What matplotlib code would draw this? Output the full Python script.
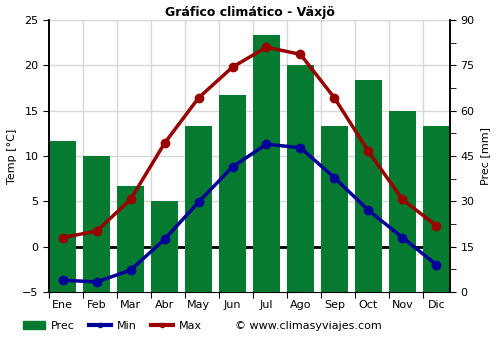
import matplotlib.pyplot as plt
from matplotlib.lines import Line2D
from matplotlib.patches import Patch
from matplotlib.ticker import MultipleLocator

months = ["Ene", "Feb", "Mar", "Abr", "May", "Jun", "Jul", "Ago", "Sep", "Oct", "Nov", "Dic"]
prec = [50, 45, 35, 30, 55, 65, 85, 75, 55, 70, 60, 55]
tmin = [-3.7, -3.9, -2.6, 0.8, 4.9, 8.8, 11.3, 10.9, 7.6, 4.0, 1.0, -2.0]
tmax = [1.0, 1.7, 5.2, 11.4, 16.4, 19.8, 22.0, 21.2, 16.4, 10.5, 5.2, 2.3]

green = "#057a30"
blue = "#000099"
red = "#990000"

fig = plt.figure(figsize=(5, 3.5), dpi=100)
ax = fig.add_axes([0.098, 0.166, 0.802, 0.777])
ax2 = ax.twinx()

x = list(range(len(months)))
w = 0.8

# bars on the right axis, drawn behind the temperature lines
ax2.bar(x, prec, width=w, color=green, zorder=1)
ax2.set_ylim(0, 90)
ax2.yaxis.set_major_locator(MultipleLocator(15))
ax2.yaxis.set_minor_locator(MultipleLocator(7.5))
ax2.set_ylabel("Prec [mm]", fontsize=8)
ax2.tick_params(axis="y", labelsize=8, length=4)
ax2.tick_params(axis="y", which="minor", length=4)

ax.set_zorder(ax2.get_zorder() + 1)
ax.patch.set_visible(False)

# bars fill the plot edge to edge, grid lines at the left edge of each bar
ax.set_xlim(-w / 2, len(months) - 1 + w / 2)
ax.set_ylim(-5, 25)
ax.yaxis.set_major_locator(MultipleLocator(5))
edges = [i - w / 2 for i in x]
ax.set_xticks(edges, minor=False)
ax.set_xticklabels([])
ax.set_xticks(x, minor=True)
ax.set_xticklabels(months, minor=True, fontsize=8)
ax.tick_params(axis="x", which="minor", length=0, pad=6)
ax.tick_params(axis="x", which="major", length=4)
ax.tick_params(axis="y", labelsize=8, length=4)
ax.set_ylabel("Temp [°C]", fontsize=8)

# grid lines sit under the bars (temp ticks every 5 = 15 mm on the right axis)
for v in range(0, 91, 15):
    ax2.axhline(v, color="#d8d8d8", lw=1, zorder=0)
for e in edges[1:]:
    ax2.axvline(e, color="#d8d8d8", lw=1, zorder=0)
# 0 °C line, also behind the bars (0 °C sits at 15 mm)
ax2.axhline(15, color="black", lw=2, zorder=0.5)

ax.plot(x, tmin, color=blue, lw=2.5, marker="o", ms=6, zorder=3)
ax.plot(x, tmax, color=red, lw=2.5, marker="o", ms=6, zorder=3)

for a in (ax, ax2):
    a.spines["top"].set_visible(False)
    a.spines["left"].set_linewidth(1.2)
    a.spines["right"].set_linewidth(1.2)
ax2.spines["bottom"].set_visible(False)

ax.set_title("Gráfico climático - Växjö", fontsize=9, fontweight="bold", pad=3)

handles = [
    Patch(color=green),
    Line2D([0], [0], color=blue, lw=3, marker="o", ms=3),
    Line2D([0], [0], color=red, lw=3, marker="o", ms=3),
]
fig.legend(handles, ["Prec", "Min", "Max"], loc="center left", bbox_to_anchor=(0.035, 0.068),
           ncol=3, frameon=False, fontsize=8, handlelength=2.0, handletextpad=0.5,
           columnspacing=1.3, borderpad=0)
fig.text(0.47, 0.068, "© www.climasyviajes.com", fontsize=8, va="center")

fig.savefig("out.png", dpi=100)
